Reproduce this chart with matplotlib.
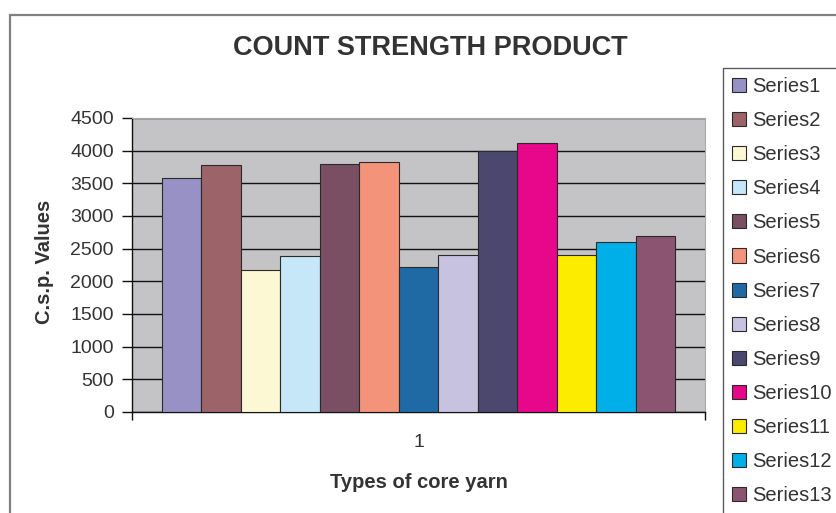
import matplotlib
matplotlib.use("Agg")
import matplotlib.pyplot as plt
from matplotlib.patches import Rectangle

series_names = [f"Series{i}" for i in range(1, 14)]
csp_values = [3580, 3780, 2180, 2390, 3800, 3830, 2220, 2400, 3990, 4110, 2400, 2600, 2690]
bar_colors = ["#9891c6", "#9c6468", "#fdf8d4", "#c6e7f7", "#7a4e63", "#f2937a",
              "#1f6aa5", "#c7c2e0", "#4c476f", "#e6078a", "#fcec00", "#00aee8", "#8b5470"]
category_labels = ["1"]
y_ticks = list(range(0, 4501, 500))

plt.rcParams["font.family"] = ["Liberation Sans", "DejaVu Sans"]
text_color = "#333333"

W, H = 837, 513
fig = plt.figure(figsize=(W / 100, H / 100), dpi=100)
fig.patch.set_facecolor("white")

# outer chart-area frame (runs off the right and bottom edges)
fig.patches.append(Rectangle((10 / W, -0.05), 1.1, 1 - 15 / H + 0.05,
                             transform=fig.transFigure, fill=False,
                             edgecolor="#808080", linewidth=1.6))

# plot area
x0, x1, y0, y1 = 132, 705, 118, 412
ax = fig.add_axes([x0 / W, 1 - y1 / H, (x1 - x0) / W, (y1 - y0) / H])
ax.set_facecolor("#c4c4c6")

n = len(csp_values)
width = 1.0 / (n + 1.5)
for i, (name, val, col) in enumerate(zip(series_names, csp_values, bar_colors)):
    pos = 1 + (i - (n - 1) / 2) * width
    ax.bar(pos, val, width=width, color=col, edgecolor="#2a2a2a",
           linewidth=0.8, label=name, zorder=3)

ax.set_xlim(0.5, 1.5)
ax.set_ylim(0, 4500)
ax.set_yticks(y_ticks)
ax.set_yticklabels([str(t) for t in y_ticks], fontsize=14, color=text_color)
ax.yaxis.grid(True, color="#111111", linewidth=1.0, zorder=1)
ax.set_axisbelow(True)
ax.tick_params(axis="y", direction="out", length=7, width=1, color="#111111", pad=6)

ax.set_xticks([0.5, 1.5], minor=False)
ax.set_xticklabels(["", ""])
ax.set_xticks([1.0], minor=True)
ax.set_xticklabels(category_labels, minor=True, fontsize=14, color=text_color)
ax.tick_params(axis="x", which="major", direction="out", length=6, width=1, color="#111111")
ax.tick_params(axis="x", which="minor", length=0, pad=16)

for side in ("top", "right"):
    ax.spines[side].set_color("#a8a8a8")
    ax.spines[side].set_linewidth(0.8)
for side in ("left", "bottom"):
    ax.spines[side].set_color("#111111")
    ax.spines[side].set_linewidth(1.0)

fig.text(430 / W, 1 - 48 / H, "COUNT STRENGTH PRODUCT", ha="center", va="center",
         fontsize=19.5, fontweight="bold", color=text_color)
fig.text(419 / W, 1 - 482 / H, "Types of core yarn", ha="center", va="center",
         fontsize=14.5, fontweight="bold", color=text_color)
fig.text(45 / W, 1 - 262 / H, "C.s.p. Values", ha="center", va="center",
         rotation=90, fontsize=14.5, fontweight="bold", color=text_color)

leg = fig.legend(loc="upper left", bbox_to_anchor=(723 / W, 1 - 68 / H),
                 bbox_transform=fig.transFigure, frameon=True, fancybox=False,
                 fontsize=14.5, handlelength=0.7, handleheight=0.7,
                 handletextpad=0.3, labelspacing=0.75, borderpad=0.45,
                 borderaxespad=0)
leg.get_frame().set_edgecolor("#333333")
leg.get_frame().set_linewidth(1.0)
for t in leg.get_texts():
    t.set_color(text_color)

fig.savefig("out.png", dpi=100)
